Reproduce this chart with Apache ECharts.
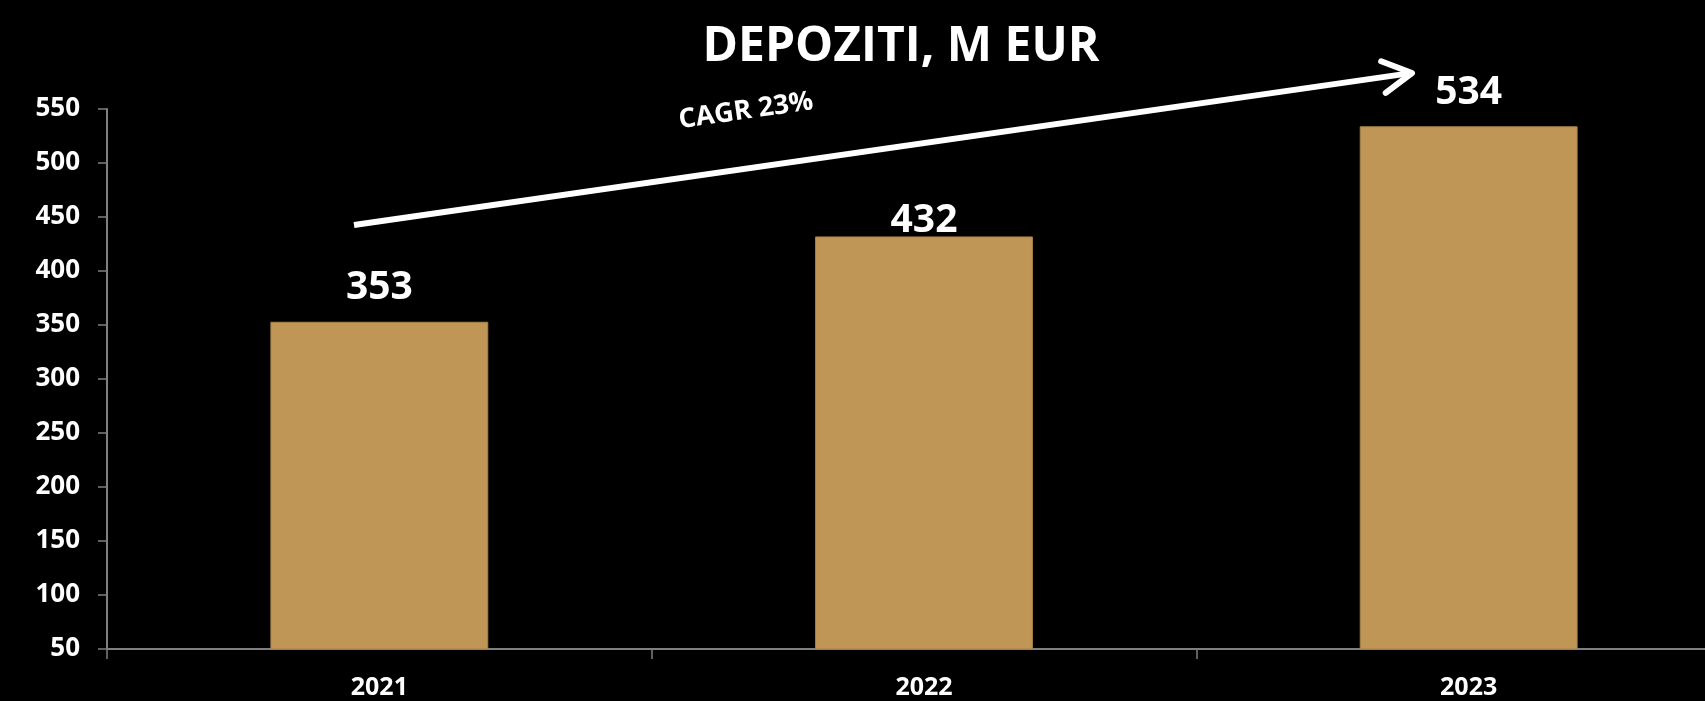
<!DOCTYPE html>
<html>
<head>
<meta charset="utf-8">
<script src="https://cdn.jsdelivr.net/npm/echarts@6/dist/echarts.min.js"></script>
<style>
  html, body { margin: 0; padding: 0; background: #000; overflow: hidden; }
  /* os X izlazi desno izvan slike, pa je platno šire od prozora */
  #chart { width: 1741px; height: 701px; }
</style>
</head>
<body>
<div id="chart"></div>
<script>
const years = ["2021", "2022", "2023"];
const deposits = [353, 432, 534];
const yTicks = { min: 50, max: 550, step: 50 };

const FONT = "'Open Sans', 'DejaVu Sans', sans-serif";

const chart = echarts.init(document.getElementById("chart"));

// strelica CAGR (anotacija, u pikselima)
const ax = 354, ay = 225, bx = 1412, by = 73;
const ang = Math.atan2(by - ay, bx - ax);
const armLen = 33, armAng = (29 * Math.PI) / 180;
const arm1 = [bx - armLen * Math.cos(ang - armAng), by - armLen * Math.sin(ang - armAng)];
const arm2 = [bx - armLen * Math.cos(ang + armAng), by - armLen * Math.sin(ang + armAng)];

// oznaka za 2022 stoji bliže stupcu
const barData = deposits.map((v, i) => (i === 1 ? { value: v, label: { distance: -4 } } : v));

const option = {
  backgroundColor: "#000",
  animation: false,
  title: {
    text: "DEPOZITI, M EUR",
    left: 896,
    top: 18,
    textAlign: "center",
    textStyle: { color: "#fff", fontFamily: FONT, fontWeight: "bold", fontSize: 48 },
  },
  grid: { left: 107, right: 0, top: 109, bottom: 52 },
  xAxis: {
    type: "category",
    data: years,
    axisLine: { lineStyle: { color: "#808080", width: 2 } },
    axisTick: { show: true, length: 10, lineStyle: { color: "#808080", width: 1.5 } },
    axisLabel: { color: "#fff", fontFamily: FONT, fontWeight: "bold", fontSize: 25, margin: 26 },
  },
  yAxis: {
    type: "value",
    min: yTicks.min,
    max: yTicks.max,
    interval: yTicks.step,
    splitLine: { show: false },
    axisLine: { show: true, lineStyle: { color: "#808080", width: 2 } },
    axisTick: { show: true, length: 9, lineStyle: { color: "#808080", width: 1.5 } },
    axisLabel: { color: "#fff", fontFamily: FONT, fontWeight: "bold", fontSize: 26, margin: 27 },
  },
  series: [
    {
      type: "bar",
      data: barData,
      barWidth: "40%",
      itemStyle: { color: "#C09657", borderColor: "#a8834a", borderWidth: 1 },
      label: {
        show: true,
        position: "top",
        distance: 14,
        color: "#fff",
        fontFamily: FONT,
        fontWeight: "bold",
        fontSize: 39,
      },
    },
  ],
  graphic: [
    {
      type: "line",
      shape: { x1: ax, y1: ay, x2: bx - 3, y2: by + 0.4 },
      style: { stroke: "#fff", lineWidth: 6 },
    },
    {
      type: "polyline",
      shape: { points: [arm1, [bx, by], arm2] },
      style: { stroke: "#fff", lineWidth: 6, fill: null, lineJoin: "round", lineCap: "round" },
    },
    {
      type: "text",
      x: 746,
      y: 111,
      rotation: -ang,
      style: {
        text: "CAGR 23%",
        fill: "#fff",
        font: "bold 27px " + FONT,
        align: "center",
        verticalAlign: "middle",
      },
    },
  ],
};

chart.setOption(option);
</script>
</body>
</html>
